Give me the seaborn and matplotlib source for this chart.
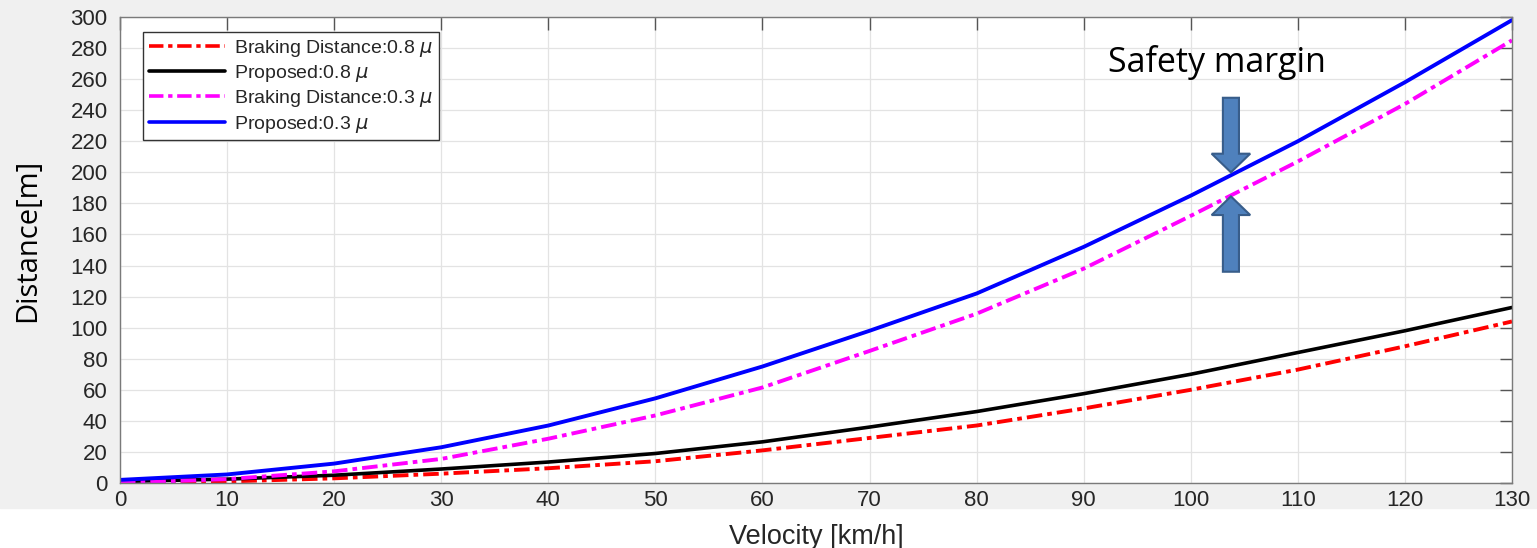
import pandas as pd
import seaborn as sns
import matplotlib.pyplot as plt
from matplotlib.patches import Rectangle, FancyArrow

sns.set_theme(style="whitegrid")
plt.rcParams['font.family'] = ['Liberation Sans', 'DejaVu Sans']

# values
velocity = [0, 10, 20, 30, 40, 50, 60, 70, 80, 90, 100, 110, 120, 130]
brake_08 = [0, 1, 3, 6, 9.5, 14, 21, 29, 37, 48, 60, 73, 88, 104]
prop_08 = [1, 2.5, 5, 9, 13.5, 19, 26.5, 36, 46, 57.5, 70, 84, 98, 113]
brake_03 = [0, 2.5, 7.5, 15.5, 28.5, 43.5, 61.5, 85, 109, 138, 172, 207, 244, 285]
prop_03 = [2, 5.5, 12.5, 23, 37, 54.5, 75, 98, 122, 152, 185, 220, 258, 298]

labels = ['Braking Distance:0.8 $\\mu$', 'Proposed:0.8 $\\mu$',
          'Braking Distance:0.3 $\\mu$', 'Proposed:0.3 $\\mu$']
series = [brake_08, prop_08, brake_03, prop_03]
colors = ['#ff0000', '#000000', '#ff00ff', '#0000ff']
dashdot = (4, 1.3, 1.2, 1.3)
styles = [dashdot, None, dashdot, None]
widths = [2.8, 2.6, 2.8, 2.8]

fig = plt.figure(figsize=(15.37, 5.48), dpi=100)
fig.patch.set_facecolor('white')
# grey window area behind the plot
fig.patches.append(Rectangle((0, 40 / 548), 1, 1, transform=fig.transFigure,
                             color='#f0f0f0', zorder=-1))
ax = fig.add_axes([120 / 1537, 65 / 548, 1392 / 1537, 466 / 548])
ax.set_facecolor('white')

for vals, lab, col, st, lw in zip(series, labels, colors, styles, widths):
    df = pd.DataFrame({'v': velocity, 'd': vals})
    sns.lineplot(data=df, x='v', y='d', ax=ax, color=col, lw=lw, label=lab)
    if st is not None:
        ax.lines[-1].set_dashes(st)

ax.set_xlim(0, 130)
ax.set_ylim(0, 300)
ax.set_xticks(range(0, 131, 10))
ax.set_yticks(range(0, 301, 20))
ax.grid(True, color='#e3e3e3', lw=0.9)
for s in ax.spines.values():
    s.set_color('#7a7a7a')
    s.set_linewidth(1.0)
ax.tick_params(direction='in', length=9, width=1.0, color='#555555',
               top=True, right=True, labelsize=16, labelcolor='#262626')
ax.tick_params(axis='y', pad=9)
ax.tick_params(axis='x', pad=5)

ax.set_xlabel('Velocity [km/h]', fontsize=19.5, color='#262626')
ax.xaxis.set_label_coords(0.5, -0.087)
ax.set_ylabel('Distance[m]', fontsize=21, family=['Open Sans', 'DejaVu Sans'],
              color='black')
ax.yaxis.set_label_coords(-0.056, 0.52)

leg = ax.legend(loc='upper left', bbox_to_anchor=(0.0165, 0.968), borderaxespad=0,
                fontsize=14, handlelength=3.9, handletextpad=0.5, labelspacing=0.22,
                frameon=True, fancybox=False, edgecolor='#333333', framealpha=1,
                borderpad=0.3)
leg.get_frame().set_linewidth(1.0)
for line in leg.get_lines():
    line.set_linewidth(2.6)

# safety margin annotation
ax.text(102.4, 271, 'Safety margin', fontsize=24.5, ha='center', va='center',
        family=['Open Sans', 'DejaVu Sans'], color='black')
arrow_kw = dict(width=1.5, head_width=3.6, head_length=12, length_includes_head=True,
                facecolor='#4f81bd', edgecolor='#385d8a', lw=1.5, zorder=5)
ax.add_patch(FancyArrow(103.75, 248, 0, -48, **arrow_kw))
ax.add_patch(FancyArrow(103.75, 136, 0, 48.5, **arrow_kw))

fig.savefig('out.png', dpi=100)
